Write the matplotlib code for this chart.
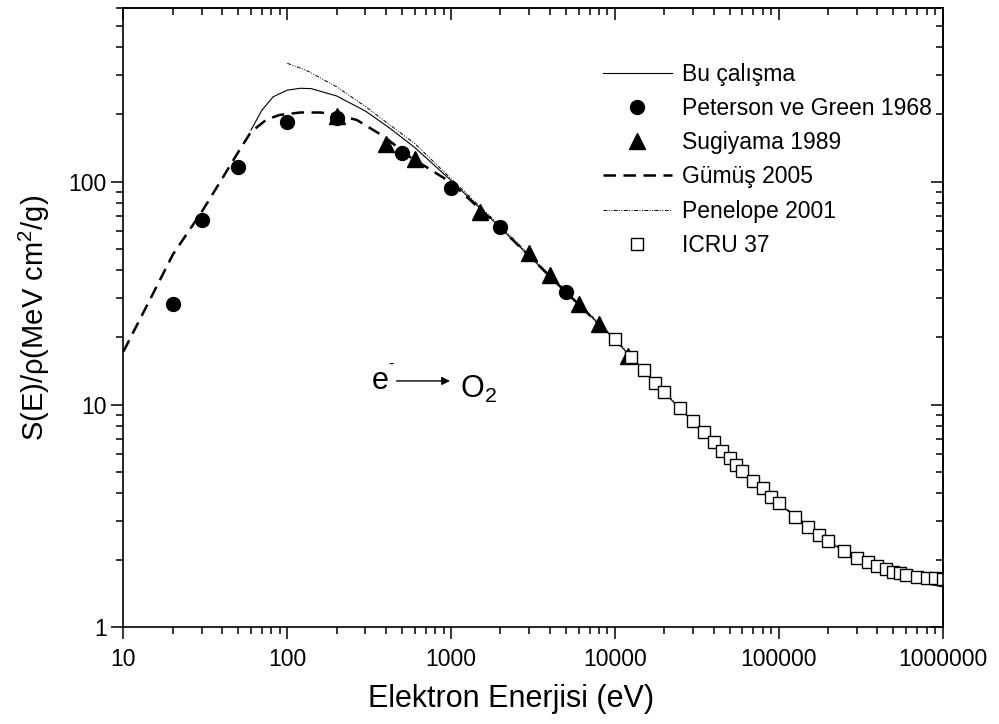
import matplotlib
matplotlib.use('Agg')
import matplotlib.pyplot as plt
import matplotlib.ticker as mtick

plt.rcParams['font.family'] = ['Liberation Sans', 'DejaVu Sans']
plt.rcParams['mathtext.fontset'] = 'custom'
plt.rcParams['mathtext.rm'] = 'Liberation Sans'
plt.rcParams['mathtext.default'] = 'regular'

# Bu calisma (solid)
bu_E = [60, 70, 82, 100, 120, 140, 200, 300, 420, 600, 1000, 2000, 5000,
        10000, 20000, 50000, 100000, 200000, 300000, 500000, 700000, 1000000]
bu_S = [170, 209, 240, 257, 262, 261, 242, 207, 174, 142, 101, 62, 32,
        19.5, 11.3, 5.7, 3.58, 2.42, 2.04, 1.71, 1.60, 1.52]

# Peterson ve Green 1968
pg_E = [20, 30, 50, 100, 200, 500, 1000, 2000, 5000]
pg_S = [28.2, 67, 116, 184, 192, 134, 94, 62.5, 32]

# Sugiyama 1989
sug_E = [200, 400, 600, 1500, 3000, 4000, 6000, 8000, 12000]
sug_S = [196, 148, 126, 73.2, 47.6, 38.1, 28.1, 23.0, 16.5]

# Gumus 2005 (dashed)
gu_E = [10, 15, 20, 30, 40, 50, 60, 75, 90, 120, 160, 200, 265, 390, 560,
        1000, 2000, 5000, 10000]
gu_S = [17.3, 31, 47, 73, 103, 135, 167, 190, 199, 204, 204, 199, 189, 159, 129,
        99, 62, 32, 19.5]

# Penelope 2001
pen_E = [100, 130, 200, 300, 420, 600, 1000, 2000, 5000, 10000, 20000, 50000,
         100000, 200000, 300000, 500000, 700000, 1000000]
pen_S = [339, 316, 266, 217, 180, 148, 103, 63, 32.5, 19.7, 11.4, 5.75,
         3.62, 2.45, 2.07, 1.78, 1.69, 1.63]

# ICRU 37
icru_E = [10000, 12500, 15000, 17500, 20000, 25000, 30000, 35000, 40000, 45000,
          50000, 55000, 60000, 70000, 80000, 90000, 100000, 125000, 150000,
          175000, 200000, 250000, 300000, 350000, 400000, 450000, 500000,
          550000, 600000, 700000, 800000, 900000, 1000000]
icru_S = [19.6, 16.4, 14.3, 12.5, 11.4, 9.61, 8.43, 7.50, 6.77, 6.21,
          5.74, 5.35, 5.03, 4.54, 4.21, 3.86, 3.61, 3.14, 2.83,
          2.60, 2.45, 2.21, 2.06, 1.96, 1.89, 1.83, 1.78,
          1.75, 1.72, 1.69, 1.67, 1.66, 1.65]

fig = plt.figure(figsize=(9.99, 7.24), dpi=100)
ax = fig.add_axes([0.1236, 0.1333, 0.82, 0.8556])

ax.plot(bu_E, bu_S, '-', color='black', lw=0.8, label='Bu çalışma')
ax.plot(pg_E, pg_S, 'o', color='black', ms=10, ls='none', label='Peterson ve Green 1968')
ax.plot(sug_E, sug_S, '^', color='black', ms=11, ls='none', label='Sugiyama 1989')
ax.plot(gu_E, gu_S, color='black', lw=1.8, dashes=(5, 3), label='Gümüş 2005')
ax.plot(pen_E, pen_S, color='black', lw=0.7, dashes=(4, 1.5, 1, 1.5, 1, 1.5),
        label='Penelope 2001')
ax.plot(icru_E, icru_S, 's', mfc='white', mec='black', mew=1.0, ms=8.5, ls='none',
        label='ICRU 37')

ax.set_xscale('log')
ax.set_yscale('log')
ax.set_xlim(10, 1e6)
ax.set_ylim(1, 600)

fmt = mtick.FormatStrFormatter('%d')
ax.xaxis.set_major_formatter(fmt)
ax.yaxis.set_major_formatter(fmt)
ax.xaxis.set_minor_formatter(mtick.NullFormatter())
ax.yaxis.set_minor_formatter(mtick.NullFormatter())
ax.xaxis.set_major_locator(mtick.LogLocator(base=10, numticks=10))
ax.xaxis.set_minor_locator(mtick.LogLocator(base=10, subs=range(2, 10), numticks=10))

for s in ax.spines.values():
    s.set_linewidth(1.2)
ax.tick_params(which='both', direction='out', top=False, right=False,
               labelsize=16.5, width=1.1)
ax.tick_params(which='major', length=8.5)
ax.tick_params(which='minor', length=5)
ax.tick_params(which='major', axis='x', pad=6)

# inward ticks on top and right
axt = ax.secondary_xaxis('top')
axt.tick_params(which='both', direction='in', labeltop=False, width=1.1)
axt.tick_params(which='major', length=8.5)
axt.tick_params(which='minor', length=5)
axt.xaxis.set_major_formatter(mtick.NullFormatter())
axt.xaxis.set_minor_formatter(mtick.NullFormatter())
axr = ax.secondary_yaxis('right')
axr.tick_params(which='both', direction='in', labelright=False, width=1.1)
axr.tick_params(which='major', length=8.5)
axr.tick_params(which='minor', length=5)
axr.yaxis.set_major_formatter(mtick.NullFormatter())
axr.yaxis.set_minor_formatter(mtick.NullFormatter())
axt.spines['top'].set_linewidth(1.2)
axr.spines['right'].set_linewidth(1.2)

ax.set_xlabel('Elektron Enerjisi (eV)', fontsize=22)
ax.xaxis.set_label_coords(0.473, -0.091)
ax.set_ylabel('S(E)/ρ(MeV cm$^{2}$/g)', fontsize=21, labelpad=12)

ax.text(0.303, 0.385, 'e', transform=ax.transAxes, fontsize=22)
ax.text(0.323, 0.418, '-', transform=ax.transAxes, fontsize=12)
ax.annotate('', xy=(0.402, 0.398), xytext=(0.33, 0.398), xycoords='axes fraction',
            arrowprops=dict(arrowstyle='-|>', color='black', lw=1, mutation_scale=12))
ax.text(0.411, 0.37, 'O$_{2}$', transform=ax.transAxes, fontsize=22)

leg = ax.legend(loc='upper left', bbox_to_anchor=(0.574, 0.9267), frameon=False,
                fontsize=16.5, handlelength=3.0, handletextpad=0.45, labelspacing=0.49,
                borderaxespad=0)

fig.savefig('out.png', dpi=100)
